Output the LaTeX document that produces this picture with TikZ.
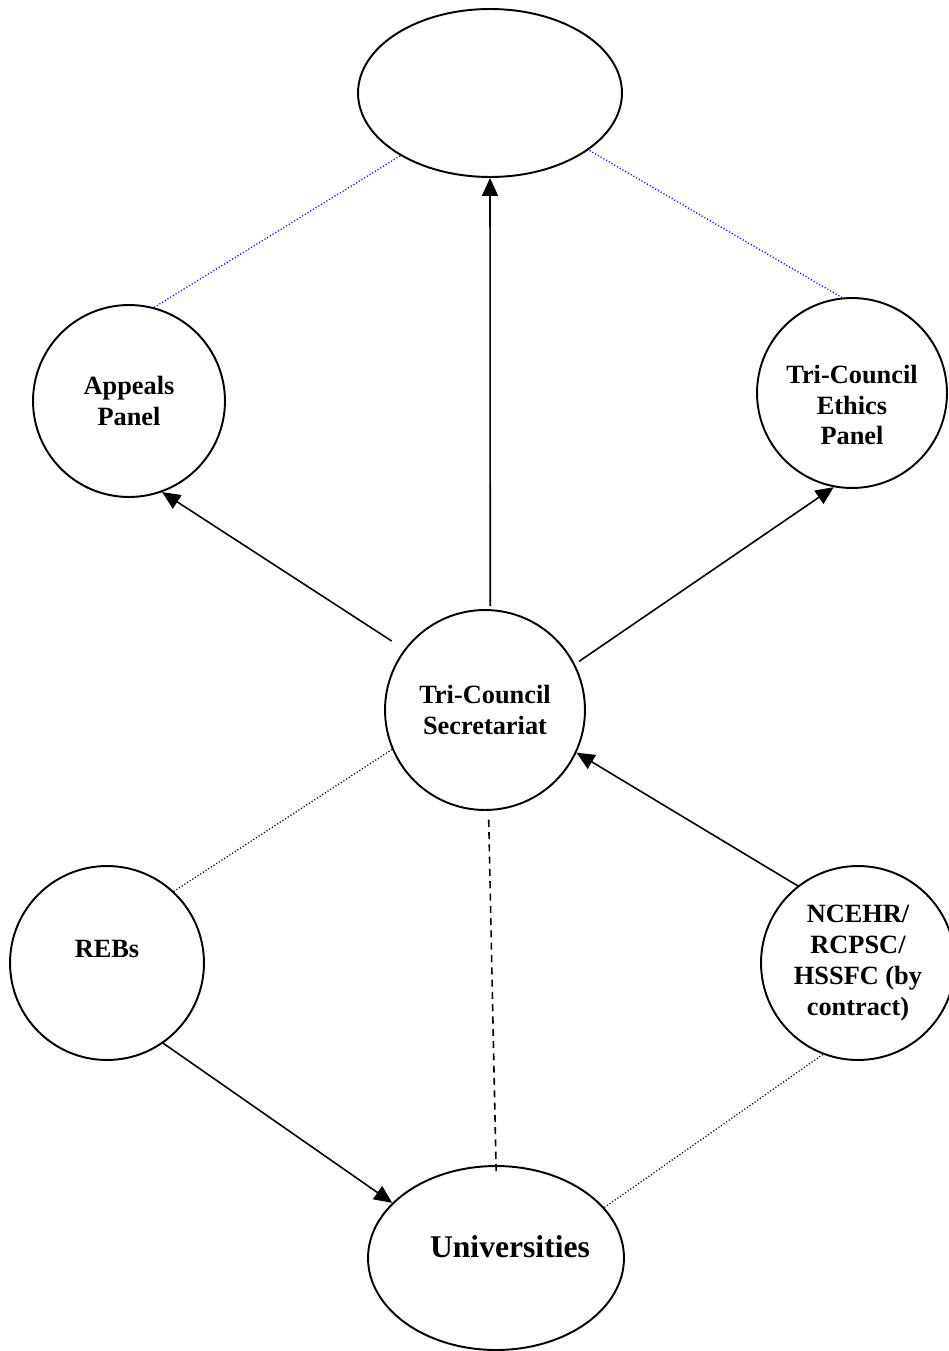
\documentclass[tikz,border=0pt]{standalone}
\usepackage{fontspec}
\setmainfont{Liberation Serif}
\usetikzlibrary{shapes,arrows.meta}

\begin{document}
\begin{tikzpicture}[x=0.02cm, y=-0.02cm,
    word/.style={font=\fontsize{15}{17.5}\selectfont\bfseries, align=center},
    blob/.style={circle, draw, line width=1.1pt, inner sep=0pt, word},
    oval/.style={ellipse, draw, line width=1.1pt, inner sep=0pt},
    link/.style={line width=0.9pt, -{Triangle[length=0.36cm, width=0.32cm]}},
    dots/.style={line width=0.75pt, dash pattern=on 0.6pt off 1.2pt},
    dashes/.style={line width=0.9pt, dash pattern=on 4pt off 3pt}]
    \useasboundingbox (0,0) rectangle (948,1351);

    % top (empty)
    \node[oval, minimum width=5.28cm, minimum height=3.36cm] (top) at (490,93) {};

    % panels
    \node[blob, minimum size=3.84cm] (app) at (129,401) {Appeals\\Panel};
    \node[blob, minimum size=3.8cm, label={[word, yshift=-0.24cm]center:Tri-Council\\Ethics\\Panel}] (eth) at (852,393) {};

    % secretariat
    \node[blob, minimum size=4cm] (sec) at (485,710) {Tri-Council\\Secretariat};

    % REBs and contract bodies
    \node[blob, minimum size=3.88cm, label={[word, yshift=0.28cm]center:REBs}] (reb) at (107,963) {};
    \node[blob, minimum size=3.88cm] (nce) at (858,963) {NCEHR/\\RCPSC/\\HSSFC (by\\contract)};

    % universities
    \node[oval, minimum width=5.12cm, minimum height=3.68cm,
        label={[font=\fontsize{18}{21}\selectfont\bfseries, xshift=0.28cm, yshift=0.22cm]center:Universities}] (univ) at (496,1258) {};

    % arrows
    \draw[link, shorten <=0.06cm] (sec.87) -- (top.south);
    \draw[link, shorten <=0.3cm] (sec.143) -- (app.-70);
    \draw[link, shorten <=0.1cm] (sec.27) -- (eth.-101);
    \draw[link] (nce.128) -- (sec.-25);
    \draw[link] (reb.-55) -- (univ.152);

    % dashed and dotted ties
    \draw[dashes, shorten <=-0.12cm, shorten >=0.16cm] (univ.north) -- (sec.-88);
    \draw[dots] (reb.47) -- (sec.203);
    \draw[dots] (nce.-111) -- (univ.25);
    \draw[dots, blue] (app.75) -- (top.215);
    \draw[dots, blue] (eth.96) -- (top.-30);
\end{tikzpicture}
\end{document}
